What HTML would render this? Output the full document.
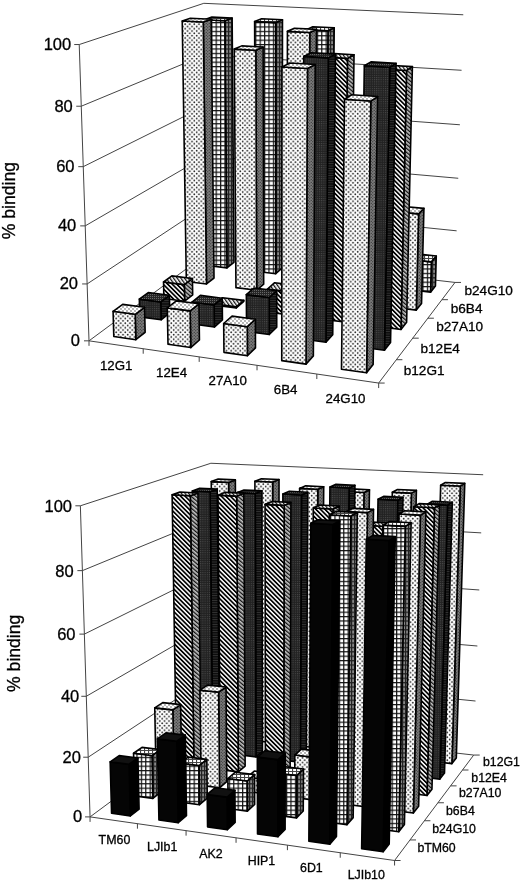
<!DOCTYPE html>
<html><head><meta charset="utf-8"><style>
html,body{margin:0;padding:0;background:#fff;}
svg{display:block;filter:blur(0.35px);}
</style></head><body>
<svg width="520" height="882" viewBox="0 0 520 882">

<defs>
 <pattern id="dotF" width="4.6" height="4.6" patternUnits="userSpaceOnUse">
  <rect width="4.6" height="4.6" fill="#fff"/>
  <circle cx="1.15" cy="1.15" r="0.9" fill="#222"/><circle cx="3.45" cy="3.45" r="0.9" fill="#222"/>
 </pattern>
 <pattern id="dotT" width="4" height="4" patternUnits="userSpaceOnUse">
  <rect width="4" height="4" fill="#fff"/>
  <circle cx="1" cy="1" r="0.65" fill="#333"/><circle cx="3" cy="3" r="0.65" fill="#333"/>
 </pattern>
 <pattern id="dotS" width="3" height="3" patternUnits="userSpaceOnUse">
  <rect width="3" height="3" fill="#7a7a7a"/>
  <circle cx="0.75" cy="0.75" r="0.6" fill="#222"/><circle cx="2.25" cy="2.25" r="0.6" fill="#222"/>
 </pattern>
 <pattern id="darkF" width="2.2" height="2.2" patternUnits="userSpaceOnUse">
  <rect width="2.2" height="2.2" fill="#222"/>
  <rect x="0" y="0" width="1.0" height="1.0" fill="#4c4c4c"/>
 </pattern>
 <pattern id="darkS" width="2" height="2.4" patternUnits="userSpaceOnUse">
  <rect width="2" height="2.4" fill="#0e0e0e"/>
  <rect x="0" y="0" width="2" height="0.7" fill="#3a3a3a"/>
 </pattern>
 <pattern id="darkT" width="2" height="2" patternUnits="userSpaceOnUse">
  <rect width="2" height="2" fill="#262626"/>
  <rect x="0" y="0" width="0.9" height="0.9" fill="#777"/>
 </pattern>
 <pattern id="hatF" width="3.2" height="3.2" patternUnits="userSpaceOnUse" patternTransform="rotate(-45)">
  <rect width="3.2" height="3.2" fill="#fff"/>
  <rect x="0" y="0" width="1.7" height="3.2" fill="#000"/>
 </pattern>
 <pattern id="hatS" width="3.0" height="3.0" patternUnits="userSpaceOnUse" patternTransform="rotate(-50)">
  <rect width="3.0" height="3.0" fill="#c4c4c4"/>
  <rect x="0" y="0" width="1.3" height="3.0" fill="#111"/>
 </pattern>
 <pattern id="hatT" width="3.0" height="3.0" patternUnits="userSpaceOnUse" patternTransform="rotate(-35)">
  <rect width="3.0" height="3.0" fill="#fff"/>
  <rect x="0" y="0" width="1.3" height="3.0" fill="#111"/>
 </pattern>
 <pattern id="gridF" width="4.4" height="4.4" patternUnits="userSpaceOnUse">
  <rect width="4.4" height="4.4" fill="#fff"/>
  <rect x="0" y="0" width="4.4" height="1.2" fill="#111"/><rect x="0" y="0" width="1.2" height="4.4" fill="#111"/>
 </pattern>
 <pattern id="gridS" width="3" height="4.4" patternUnits="userSpaceOnUse">
  <rect width="3" height="4.4" fill="#888"/>
  <rect x="0" y="0" width="3" height="1.3" fill="#222"/><rect x="0" y="0" width="1.2" height="4.4" fill="#222"/>
 </pattern>
 <pattern id="gridT" width="4" height="3" patternUnits="userSpaceOnUse">
  <rect width="4" height="3" fill="#fff"/>
  <rect x="0" y="0" width="4" height="1" fill="#444"/><rect x="0" y="0" width="1.1" height="3" fill="#444"/>
 </pattern>
</defs>

<rect width="520" height="882" fill="#fff"/>
<polyline points="89.00,340.83 206.87,253.68 455.03,282.43" fill="none" stroke="#444" stroke-width="1.0"/>
<line x1="84.00" y1="340.83" x2="89.00" y2="340.83" stroke="#444" stroke-width="1.0"/>
<polyline points="87.12,283.94 206.28,205.28 456.62,230.82" fill="none" stroke="#444" stroke-width="1.0"/>
<line x1="82.12" y1="283.94" x2="87.12" y2="283.94" stroke="#444" stroke-width="1.0"/>
<polyline points="85.21,225.89 205.68,156.07 458.24,178.27" fill="none" stroke="#444" stroke-width="1.0"/>
<line x1="80.21" y1="225.89" x2="85.21" y2="225.89" stroke="#444" stroke-width="1.0"/>
<polyline points="83.25,166.67 205.07,106.02 459.89,124.77" fill="none" stroke="#444" stroke-width="1.0"/>
<line x1="78.25" y1="166.67" x2="83.25" y2="166.67" stroke="#444" stroke-width="1.0"/>
<polyline points="81.26,106.23 204.45,55.11 461.57,70.28" fill="none" stroke="#444" stroke-width="1.0"/>
<line x1="76.26" y1="106.23" x2="81.26" y2="106.23" stroke="#444" stroke-width="1.0"/>
<polyline points="79.22,44.54 203.82,3.32 463.28,14.78" fill="none" stroke="#444" stroke-width="1.0"/>
<line x1="74.22" y1="44.54" x2="79.22" y2="44.54" stroke="#444" stroke-width="1.0"/>
<line x1="89.00" y1="340.83" x2="79.22" y2="44.54" stroke="#444" stroke-width="1.0"/>
<polyline points="89.00,340.83 378.67,383.05 455.03,282.43" fill="none" stroke="#444" stroke-width="1.0"/>
<line x1="89.00" y1="340.83" x2="89.00" y2="345.83" stroke="#444" stroke-width="1.0"/>
<line x1="143.21" y1="348.73" x2="143.21" y2="353.73" stroke="#444" stroke-width="1.0"/>
<line x1="199.19" y1="356.89" x2="199.19" y2="361.89" stroke="#444" stroke-width="1.0"/>
<line x1="257.03" y1="365.32" x2="257.03" y2="370.32" stroke="#444" stroke-width="1.0"/>
<line x1="316.82" y1="374.04" x2="316.82" y2="379.04" stroke="#444" stroke-width="1.0"/>
<line x1="378.67" y1="383.05" x2="378.67" y2="388.05" stroke="#444" stroke-width="1.0"/>
<line x1="378.67" y1="383.05" x2="384.67" y2="383.05" stroke="#444" stroke-width="1.0"/>
<line x1="396.38" y1="359.71" x2="402.38" y2="359.71" stroke="#444" stroke-width="1.0"/>
<line x1="412.73" y1="338.17" x2="418.73" y2="338.17" stroke="#444" stroke-width="1.0"/>
<line x1="427.88" y1="318.21" x2="433.88" y2="318.21" stroke="#444" stroke-width="1.0"/>
<line x1="441.94" y1="299.68" x2="447.94" y2="299.68" stroke="#444" stroke-width="1.0"/>
<line x1="455.03" y1="282.43" x2="461.03" y2="282.43" stroke="#444" stroke-width="1.0"/>
<polygon points="226.94,267.88 233.97,262.34 232.14,18.08 224.79,20.81" fill="url(#gridS)" stroke="#000" stroke-width="1.6" stroke-linejoin="round"/>
<polygon points="207.33,265.54 226.94,267.88 224.79,20.81 204.35,19.81" fill="url(#gridF)" stroke="#000" stroke-width="1.6" stroke-linejoin="round"/>
<polygon points="204.35,19.81 224.79,20.81 232.14,18.08 211.91,17.11" fill="url(#gridT)" stroke="#000" stroke-width="1.6" stroke-linejoin="round"/>
<polygon points="275.72,273.70 282.26,268.01 282.47,19.78 275.65,22.58" fill="url(#gridS)" stroke="#000" stroke-width="1.6" stroke-linejoin="round"/>
<polygon points="255.56,271.30 275.72,273.70 275.65,22.58 254.62,21.55" fill="url(#gridF)" stroke="#000" stroke-width="1.6" stroke-linejoin="round"/>
<polygon points="254.62,21.55 275.65,22.58 282.47,19.78 261.66,18.79" fill="url(#gridT)" stroke="#000" stroke-width="1.6" stroke-linejoin="round"/>
<polygon points="325.87,279.68 331.90,273.84 334.22,27.78 327.97,30.72" fill="url(#gridS)" stroke="#000" stroke-width="1.6" stroke-linejoin="round"/>
<polygon points="305.14,277.21 325.87,279.68 327.97,30.72 306.34,29.63" fill="url(#gridF)" stroke="#000" stroke-width="1.6" stroke-linejoin="round"/>
<polygon points="306.34,29.63 327.97,30.72 334.22,27.78 312.82,26.73" fill="url(#gridT)" stroke="#000" stroke-width="1.6" stroke-linejoin="round"/>
<polygon points="206.51,283.99 214.02,278.07 211.18,19.21 203.29,22.06" fill="url(#dotS)" stroke="#000" stroke-width="1.6" stroke-linejoin="round"/>
<polygon points="186.34,281.48 206.51,283.99 203.29,22.06 182.23,21.02" fill="url(#dotF)" stroke="#000" stroke-width="1.6" stroke-linejoin="round"/>
<polygon points="182.23,21.02 203.29,22.06 211.18,19.21 190.35,18.20" fill="url(#dotT)" stroke="#000" stroke-width="1.6" stroke-linejoin="round"/>
<polygon points="377.46,285.83 382.94,279.84 383.17,267.11 377.69,272.96" fill="url(#gridS)" stroke="#000" stroke-width="1.6" stroke-linejoin="round"/>
<polygon points="356.13,283.29 377.46,285.83 377.69,272.96 356.31,270.48" fill="url(#gridF)" stroke="#000" stroke-width="1.6" stroke-linejoin="round"/>
<polygon points="356.31,270.48 377.69,272.96 383.17,267.11 362.02,264.70" fill="url(#gridT)" stroke="#000" stroke-width="1.6" stroke-linejoin="round"/>
<polygon points="430.55,292.16 435.44,286.00 436.26,256.06 431.35,261.87" fill="url(#gridS)" stroke="#000" stroke-width="1.6" stroke-linejoin="round"/>
<polygon points="408.60,289.54 430.55,292.16 431.35,261.87 409.28,259.42" fill="url(#gridF)" stroke="#000" stroke-width="1.6" stroke-linejoin="round"/>
<polygon points="409.28,259.42 431.35,261.87 436.26,256.06 414.43,253.67" fill="url(#gridT)" stroke="#000" stroke-width="1.6" stroke-linejoin="round"/>
<polygon points="256.69,290.24 263.69,284.15 263.13,47.06 255.83,50.30" fill="url(#dotS)" stroke="#000" stroke-width="1.6" stroke-linejoin="round"/>
<polygon points="235.94,287.66 256.69,290.24 255.83,50.30 234.23,49.08" fill="url(#dotF)" stroke="#000" stroke-width="1.6" stroke-linejoin="round"/>
<polygon points="234.23,49.08 255.83,50.30 263.13,47.06 241.76,45.87" fill="url(#dotT)" stroke="#000" stroke-width="1.6" stroke-linejoin="round"/>
<polygon points="308.34,296.67 314.79,290.42 316.49,29.41 309.77,32.48" fill="url(#dotS)" stroke="#000" stroke-width="1.6" stroke-linejoin="round"/>
<polygon points="286.98,294.01 308.34,296.67 309.77,32.48 287.42,31.34" fill="url(#dotF)" stroke="#000" stroke-width="1.6" stroke-linejoin="round"/>
<polygon points="287.42,31.34 309.77,32.48 316.49,29.41 294.40,28.30" fill="url(#dotT)" stroke="#000" stroke-width="1.6" stroke-linejoin="round"/>
<polygon points="184.62,301.24 192.68,294.89 192.43,278.46 184.35,284.61" fill="url(#hatS)" stroke="#000" stroke-width="1.6" stroke-linejoin="round"/>
<polygon points="163.87,298.54 184.62,301.24 184.35,284.61 163.54,282.00" fill="url(#hatF)" stroke="#000" stroke-width="1.6" stroke-linejoin="round"/>
<polygon points="163.54,282.00 184.35,284.61 192.43,278.46 171.84,275.91" fill="url(#hatT)" stroke="#000" stroke-width="1.6" stroke-linejoin="round"/>
<polygon points="361.52,303.30 367.39,296.87 367.59,283.72 361.71,290.00" fill="url(#dotS)" stroke="#000" stroke-width="1.6" stroke-linejoin="round"/>
<polygon points="339.53,300.56 361.52,303.30 361.71,290.00 339.67,287.33" fill="url(#dotF)" stroke="#000" stroke-width="1.6" stroke-linejoin="round"/>
<polygon points="339.67,287.33 361.71,290.00 367.59,283.72 345.79,281.13" fill="url(#dotT)" stroke="#000" stroke-width="1.6" stroke-linejoin="round"/>
<polygon points="236.29,307.97 243.80,301.44 243.79,300.39 236.28,306.91" fill="url(#hatS)" stroke="#000" stroke-width="1.6" stroke-linejoin="round"/>
<polygon points="214.92,305.19 236.29,307.97 236.28,306.91 214.91,304.13" fill="url(#hatF)" stroke="#000" stroke-width="1.6" stroke-linejoin="round"/>
<polygon points="214.91,304.13 236.28,306.91 243.79,300.39 222.65,297.69" fill="url(#hatT)" stroke="#000" stroke-width="1.6" stroke-linejoin="round"/>
<polygon points="416.29,310.12 421.54,303.51 423.93,208.40 418.63,213.85" fill="url(#dotS)" stroke="#000" stroke-width="1.6" stroke-linejoin="round"/>
<polygon points="393.64,307.30 416.29,310.12 418.63,213.85 395.58,211.58" fill="url(#dotF)" stroke="#000" stroke-width="1.6" stroke-linejoin="round"/>
<polygon points="395.58,211.58 418.63,213.85 423.93,208.40 401.15,206.19" fill="url(#dotT)" stroke="#000" stroke-width="1.6" stroke-linejoin="round"/>
<polygon points="289.52,314.91 296.45,308.19 296.53,285.38 289.57,291.83" fill="url(#hatS)" stroke="#000" stroke-width="1.6" stroke-linejoin="round"/>
<polygon points="267.50,312.04 289.52,314.91 289.57,291.83 267.46,289.09" fill="url(#hatF)" stroke="#000" stroke-width="1.6" stroke-linejoin="round"/>
<polygon points="267.46,289.09 289.57,291.83 296.53,285.38 274.67,282.72" fill="url(#hatT)" stroke="#000" stroke-width="1.6" stroke-linejoin="round"/>
<polygon points="161.12,319.77 169.78,312.94 169.45,295.31 160.76,301.92" fill="url(#darkS)" stroke="#000" stroke-width="1.6" stroke-linejoin="round"/>
<polygon points="139.76,316.85 161.12,319.77 160.76,301.92 139.33,299.11" fill="url(#darkF)" stroke="#000" stroke-width="1.6" stroke-linejoin="round"/>
<polygon points="139.33,299.11 160.76,301.92 169.45,295.31 148.24,292.58" fill="url(#darkT)" stroke="#000" stroke-width="1.6" stroke-linejoin="round"/>
<polygon points="344.39,322.06 350.70,315.15 354.03,54.75 347.48,58.34" fill="url(#hatS)" stroke="#000" stroke-width="1.6" stroke-linejoin="round"/>
<polygon points="321.69,319.10 344.39,322.06 347.48,58.34 323.72,56.97" fill="url(#hatF)" stroke="#000" stroke-width="1.6" stroke-linejoin="round"/>
<polygon points="323.72,56.97 347.48,58.34 354.03,54.75 330.56,53.42" fill="url(#hatT)" stroke="#000" stroke-width="1.6" stroke-linejoin="round"/>
<polygon points="214.36,327.04 222.44,320.01 222.23,298.21 214.12,304.96" fill="url(#darkS)" stroke="#000" stroke-width="1.6" stroke-linejoin="round"/>
<polygon points="192.33,324.03 214.36,327.04 214.12,304.96 192.01,302.08" fill="url(#darkF)" stroke="#000" stroke-width="1.6" stroke-linejoin="round"/>
<polygon points="192.01,302.08 214.12,304.96 222.23,298.21 200.36,295.41" fill="url(#darkT)" stroke="#000" stroke-width="1.6" stroke-linejoin="round"/>
<polygon points="400.97,329.43 406.62,322.32 412.39,66.62 406.57,70.43" fill="url(#hatS)" stroke="#000" stroke-width="1.6" stroke-linejoin="round"/>
<polygon points="377.56,326.38 400.97,329.43 406.57,70.43 382.07,68.96" fill="url(#hatF)" stroke="#000" stroke-width="1.6" stroke-linejoin="round"/>
<polygon points="382.07,68.96 406.57,70.43 412.39,66.62 388.19,65.20" fill="url(#hatT)" stroke="#000" stroke-width="1.6" stroke-linejoin="round"/>
<polygon points="269.27,334.54 276.74,327.30 276.73,290.75 269.22,297.53" fill="url(#darkS)" stroke="#000" stroke-width="1.6" stroke-linejoin="round"/>
<polygon points="246.55,331.43 269.27,334.54 269.22,297.53 246.35,294.65" fill="url(#darkF)" stroke="#000" stroke-width="1.6" stroke-linejoin="round"/>
<polygon points="246.35,294.65 269.22,297.53 276.73,290.75 254.13,287.95" fill="url(#darkT)" stroke="#000" stroke-width="1.6" stroke-linejoin="round"/>
<polygon points="135.82,339.71 145.15,332.36 144.57,307.27 135.19,314.31" fill="url(#dotS)" stroke="#000" stroke-width="1.6" stroke-linejoin="round"/>
<polygon points="113.81,336.55 135.82,339.71 135.19,314.31 113.08,311.30" fill="url(#dotF)" stroke="#000" stroke-width="1.6" stroke-linejoin="round"/>
<polygon points="113.08,311.30 135.19,314.31 144.57,307.27 122.70,304.35" fill="url(#dotT)" stroke="#000" stroke-width="1.6" stroke-linejoin="round"/>
<polygon points="325.93,342.28 332.74,334.82 335.46,54.11 328.36,57.84" fill="url(#darkS)" stroke="#000" stroke-width="1.6" stroke-linejoin="round"/>
<polygon points="302.48,339.07 325.93,342.28 328.36,57.84 303.73,56.41" fill="url(#darkF)" stroke="#000" stroke-width="1.6" stroke-linejoin="round"/>
<polygon points="303.73,56.41 328.36,57.84 335.46,54.11 311.14,52.73" fill="url(#darkT)" stroke="#000" stroke-width="1.6" stroke-linejoin="round"/>
<polygon points="190.72,347.58 199.44,340.00 198.95,303.79 190.16,310.90" fill="url(#dotS)" stroke="#000" stroke-width="1.6" stroke-linejoin="round"/>
<polygon points="168.00,344.32 190.72,347.58 190.16,310.90 167.30,307.87" fill="url(#dotF)" stroke="#000" stroke-width="1.6" stroke-linejoin="round"/>
<polygon points="167.30,307.87 190.16,310.90 198.95,303.79 176.34,300.84" fill="url(#dotT)" stroke="#000" stroke-width="1.6" stroke-linejoin="round"/>
<polygon points="384.43,350.27 390.53,342.58 396.07,63.33 389.75,67.25" fill="url(#darkS)" stroke="#000" stroke-width="1.6" stroke-linejoin="round"/>
<polygon points="360.22,346.96 384.43,350.27 389.75,67.25 364.31,65.74" fill="url(#darkF)" stroke="#000" stroke-width="1.6" stroke-linejoin="round"/>
<polygon points="364.31,65.74 389.75,67.25 396.07,63.33 370.96,61.87" fill="url(#darkT)" stroke="#000" stroke-width="1.6" stroke-linejoin="round"/>
<polygon points="247.42,355.71 255.48,347.90 255.37,319.25 247.27,326.69" fill="url(#dotS)" stroke="#000" stroke-width="1.6" stroke-linejoin="round"/>
<polygon points="223.95,352.35 247.42,355.71 247.27,326.69 223.68,323.50" fill="url(#dotF)" stroke="#000" stroke-width="1.6" stroke-linejoin="round"/>
<polygon points="223.68,323.50 247.27,326.69 255.37,319.25 232.06,316.15" fill="url(#dotT)" stroke="#000" stroke-width="1.6" stroke-linejoin="round"/>
<polygon points="306.00,364.12 313.36,356.05 315.20,64.52 307.49,68.56" fill="url(#dotS)" stroke="#000" stroke-width="1.6" stroke-linejoin="round"/>
<polygon points="281.75,360.64 306.00,364.12 307.49,68.56 281.97,67.00" fill="url(#dotF)" stroke="#000" stroke-width="1.6" stroke-linejoin="round"/>
<polygon points="281.97,67.00 307.49,68.56 315.20,64.52 290.01,63.01" fill="url(#dotT)" stroke="#000" stroke-width="1.6" stroke-linejoin="round"/>
<polygon points="366.55,372.80 373.15,364.48 377.67,96.47 370.82,101.06" fill="url(#dotS)" stroke="#000" stroke-width="1.6" stroke-linejoin="round"/>
<polygon points="341.48,369.20 366.55,372.80 370.82,101.06 344.53,99.25" fill="url(#dotF)" stroke="#000" stroke-width="1.6" stroke-linejoin="round"/>
<polygon points="344.53,99.25 370.82,101.06 377.67,96.47 351.73,94.72" fill="url(#dotT)" stroke="#000" stroke-width="1.6" stroke-linejoin="round"/>
<polyline points="90.06,816.90 213.51,725.52 473.71,755.06" fill="none" stroke="#444" stroke-width="1.0"/>
<line x1="85.06" y1="816.90" x2="90.06" y2="816.90" stroke="#444" stroke-width="1.0"/>
<polyline points="88.20,757.21 213.01,674.84 475.53,701.03" fill="none" stroke="#444" stroke-width="1.0"/>
<line x1="83.20" y1="757.21" x2="88.20" y2="757.21" stroke="#444" stroke-width="1.0"/>
<polyline points="86.31,696.29 212.49,623.30 477.38,646.01" fill="none" stroke="#444" stroke-width="1.0"/>
<line x1="81.31" y1="696.29" x2="86.31" y2="696.29" stroke="#444" stroke-width="1.0"/>
<polyline points="84.37,634.11 211.97,570.88 479.27,589.98" fill="none" stroke="#444" stroke-width="1.0"/>
<line x1="79.37" y1="634.11" x2="84.37" y2="634.11" stroke="#444" stroke-width="1.0"/>
<polyline points="82.39,570.63 211.43,517.53 481.20,532.89" fill="none" stroke="#444" stroke-width="1.0"/>
<line x1="77.39" y1="570.63" x2="82.39" y2="570.63" stroke="#444" stroke-width="1.0"/>
<polyline points="80.37,505.81 210.89,463.26 483.16,474.74" fill="none" stroke="#444" stroke-width="1.0"/>
<line x1="75.37" y1="505.81" x2="80.37" y2="505.81" stroke="#444" stroke-width="1.0"/>
<line x1="90.06" y1="816.90" x2="80.37" y2="505.81" stroke="#444" stroke-width="1.0"/>
<polyline points="90.06,816.90 394.57,860.51 473.71,755.06" fill="none" stroke="#444" stroke-width="1.0"/>
<line x1="90.06" y1="816.90" x2="90.06" y2="821.90" stroke="#444" stroke-width="1.0"/>
<line x1="137.43" y1="823.68" x2="137.43" y2="828.68" stroke="#444" stroke-width="1.0"/>
<line x1="186.07" y1="830.65" x2="186.07" y2="835.65" stroke="#444" stroke-width="1.0"/>
<line x1="236.05" y1="837.81" x2="236.05" y2="842.81" stroke="#444" stroke-width="1.0"/>
<line x1="287.42" y1="845.16" x2="287.42" y2="850.16" stroke="#444" stroke-width="1.0"/>
<line x1="340.24" y1="852.73" x2="340.24" y2="857.73" stroke="#444" stroke-width="1.0"/>
<line x1="394.57" y1="860.51" x2="394.57" y2="865.51" stroke="#444" stroke-width="1.0"/>
<line x1="394.57" y1="860.51" x2="400.57" y2="860.51" stroke="#444" stroke-width="1.0"/>
<line x1="410.00" y1="839.95" x2="416.00" y2="839.95" stroke="#444" stroke-width="1.0"/>
<line x1="424.42" y1="820.74" x2="430.42" y2="820.74" stroke="#444" stroke-width="1.0"/>
<line x1="437.91" y1="802.75" x2="443.91" y2="802.75" stroke="#444" stroke-width="1.0"/>
<line x1="450.58" y1="785.87" x2="456.58" y2="785.87" stroke="#444" stroke-width="1.0"/>
<line x1="462.49" y1="770.00" x2="468.49" y2="770.00" stroke="#444" stroke-width="1.0"/>
<line x1="473.71" y1="755.06" x2="479.71" y2="755.06" stroke="#444" stroke-width="1.0"/>
<polygon points="230.42,737.86 236.90,732.80 235.36,479.91 228.59,482.39" fill="url(#dotS)" stroke="#000" stroke-width="1.6" stroke-linejoin="round"/>
<polygon points="213.78,735.92 230.42,737.86 228.59,482.39 211.24,481.58" fill="url(#dotF)" stroke="#000" stroke-width="1.6" stroke-linejoin="round"/>
<polygon points="211.24,481.58 228.59,482.39 235.36,479.91 218.17,479.12" fill="url(#dotT)" stroke="#000" stroke-width="1.6" stroke-linejoin="round"/>
<polygon points="272.69,742.78 278.79,737.61 279.03,479.51 272.66,482.01" fill="url(#dotS)" stroke="#000" stroke-width="1.6" stroke-linejoin="round"/>
<polygon points="255.66,740.80 272.69,742.78 272.66,482.01 254.90,481.18" fill="url(#dotF)" stroke="#000" stroke-width="1.6" stroke-linejoin="round"/>
<polygon points="254.90,481.18 272.66,482.01 279.03,479.51 261.43,478.70" fill="url(#dotT)" stroke="#000" stroke-width="1.6" stroke-linejoin="round"/>
<polygon points="315.93,747.81 321.64,742.53 323.72,486.68 317.79,489.29" fill="url(#dotS)" stroke="#000" stroke-width="1.6" stroke-linejoin="round"/>
<polygon points="298.52,745.78 315.93,747.81 317.79,489.29 299.61,488.42" fill="url(#dotF)" stroke="#000" stroke-width="1.6" stroke-linejoin="round"/>
<polygon points="299.61,488.42 317.79,489.29 323.72,486.68 305.71,485.83" fill="url(#dotT)" stroke="#000" stroke-width="1.6" stroke-linejoin="round"/>
<polygon points="212.70,751.69 219.55,746.34 217.23,489.16 210.06,491.82" fill="url(#darkS)" stroke="#000" stroke-width="1.6" stroke-linejoin="round"/>
<polygon points="195.67,749.63 212.70,751.69 210.06,491.82 192.30,490.93" fill="url(#darkF)" stroke="#000" stroke-width="1.6" stroke-linejoin="round"/>
<polygon points="192.30,490.93 210.06,491.82 217.23,489.16 199.64,488.30" fill="url(#darkT)" stroke="#000" stroke-width="1.6" stroke-linejoin="round"/>
<polygon points="360.19,752.96 365.49,747.56 369.48,489.78 364.00,492.46" fill="url(#dotS)" stroke="#000" stroke-width="1.6" stroke-linejoin="round"/>
<polygon points="342.37,750.88 360.19,752.96 364.00,492.46 345.38,491.57" fill="url(#dotF)" stroke="#000" stroke-width="1.6" stroke-linejoin="round"/>
<polygon points="345.38,491.57 364.00,492.46 369.48,489.78 351.04,488.91" fill="url(#dotT)" stroke="#000" stroke-width="1.6" stroke-linejoin="round"/>
<polygon points="255.99,756.91 262.45,751.44 261.97,490.85 255.22,493.56" fill="url(#darkS)" stroke="#000" stroke-width="1.6" stroke-linejoin="round"/>
<polygon points="238.55,754.81 255.99,756.91 255.22,493.56 237.02,492.65" fill="url(#darkF)" stroke="#000" stroke-width="1.6" stroke-linejoin="round"/>
<polygon points="237.02,492.65 255.22,493.56 261.97,490.85 243.95,489.96" fill="url(#darkT)" stroke="#000" stroke-width="1.6" stroke-linejoin="round"/>
<polygon points="405.50,758.23 410.36,752.72 416.41,490.42 411.40,493.15" fill="url(#dotS)" stroke="#000" stroke-width="1.6" stroke-linejoin="round"/>
<polygon points="387.25,756.11 405.50,758.23 411.40,493.15 392.31,492.24" fill="url(#dotF)" stroke="#000" stroke-width="1.6" stroke-linejoin="round"/>
<polygon points="392.31,492.24 411.40,493.15 416.41,490.42 397.51,489.54" fill="url(#dotT)" stroke="#000" stroke-width="1.6" stroke-linejoin="round"/>
<polygon points="451.90,763.63 456.30,757.99 464.76,483.40 460.25,486.07" fill="url(#dotS)" stroke="#000" stroke-width="1.6" stroke-linejoin="round"/>
<polygon points="433.21,761.45 451.90,763.63 460.25,486.07 440.65,485.19" fill="url(#dotF)" stroke="#000" stroke-width="1.6" stroke-linejoin="round"/>
<polygon points="440.65,485.19 460.25,486.07 464.76,483.40 445.36,482.53" fill="url(#dotT)" stroke="#000" stroke-width="1.6" stroke-linejoin="round"/>
<polygon points="300.30,762.26 306.35,756.67 307.82,492.19 301.52,494.95" fill="url(#darkS)" stroke="#000" stroke-width="1.6" stroke-linejoin="round"/>
<polygon points="282.45,760.10 300.30,762.26 301.52,494.95 282.86,494.03" fill="url(#darkF)" stroke="#000" stroke-width="1.6" stroke-linejoin="round"/>
<polygon points="282.86,494.03 301.52,494.95 307.82,492.19 289.35,491.29" fill="url(#darkT)" stroke="#000" stroke-width="1.6" stroke-linejoin="round"/>
<polygon points="193.94,766.33 201.20,760.66 197.95,492.96 190.32,495.74" fill="url(#hatS)" stroke="#000" stroke-width="1.6" stroke-linejoin="round"/>
<polygon points="176.50,764.14 193.94,766.33 190.32,495.74 172.11,494.81" fill="url(#hatF)" stroke="#000" stroke-width="1.6" stroke-linejoin="round"/>
<polygon points="172.11,494.81 190.32,495.74 197.95,492.96 179.91,492.05" fill="url(#hatT)" stroke="#000" stroke-width="1.6" stroke-linejoin="round"/>
<polygon points="345.69,767.74 351.30,762.02 354.94,485.23 349.10,487.95" fill="url(#darkS)" stroke="#000" stroke-width="1.6" stroke-linejoin="round"/>
<polygon points="327.40,765.53 345.69,767.74 349.10,487.95 329.94,487.04" fill="url(#darkF)" stroke="#000" stroke-width="1.6" stroke-linejoin="round"/>
<polygon points="329.94,487.04 349.10,487.95 354.94,485.23 335.97,484.35" fill="url(#darkT)" stroke="#000" stroke-width="1.6" stroke-linejoin="round"/>
<polygon points="238.29,771.89 245.14,766.09 243.84,493.30 236.66,496.12" fill="url(#hatS)" stroke="#000" stroke-width="1.6" stroke-linejoin="round"/>
<polygon points="220.42,769.65 238.29,771.89 236.66,496.12 217.98,495.18" fill="url(#hatF)" stroke="#000" stroke-width="1.6" stroke-linejoin="round"/>
<polygon points="217.98,495.18 236.66,496.12 243.84,493.30 225.34,492.37" fill="url(#hatT)" stroke="#000" stroke-width="1.6" stroke-linejoin="round"/>
<polygon points="392.18,773.35 397.34,767.50 402.99,497.29 397.66,500.18" fill="url(#darkS)" stroke="#000" stroke-width="1.6" stroke-linejoin="round"/>
<polygon points="373.45,771.09 392.18,773.35 397.66,500.18 378.04,499.21" fill="url(#darkF)" stroke="#000" stroke-width="1.6" stroke-linejoin="round"/>
<polygon points="378.04,499.21 397.66,500.18 402.99,497.29 383.57,496.34" fill="url(#darkT)" stroke="#000" stroke-width="1.6" stroke-linejoin="round"/>
<polygon points="439.83,779.10 444.50,773.11 452.33,502.19 447.53,505.17" fill="url(#darkS)" stroke="#000" stroke-width="1.6" stroke-linejoin="round"/>
<polygon points="420.63,776.78 439.83,779.10 447.53,505.17 427.41,504.16" fill="url(#darkF)" stroke="#000" stroke-width="1.6" stroke-linejoin="round"/>
<polygon points="427.41,504.16 447.53,505.17 452.33,502.19 432.42,501.20" fill="url(#darkT)" stroke="#000" stroke-width="1.6" stroke-linejoin="round"/>
<polygon points="283.73,777.58 290.14,771.65 290.91,502.41 284.21,505.38" fill="url(#hatS)" stroke="#000" stroke-width="1.6" stroke-linejoin="round"/>
<polygon points="265.42,775.29 283.73,777.58 284.21,505.38 265.06,504.37" fill="url(#hatF)" stroke="#000" stroke-width="1.6" stroke-linejoin="round"/>
<polygon points="265.06,504.37 284.21,505.38 290.91,502.41 271.95,501.43" fill="url(#hatT)" stroke="#000" stroke-width="1.6" stroke-linejoin="round"/>
<polygon points="174.04,781.86 181.74,775.85 180.64,704.59 172.83,709.84" fill="url(#dotS)" stroke="#000" stroke-width="1.6" stroke-linejoin="round"/>
<polygon points="156.16,779.54 174.04,781.86 172.83,709.84 154.75,707.84" fill="url(#dotF)" stroke="#000" stroke-width="1.6" stroke-linejoin="round"/>
<polygon points="154.75,707.84 172.83,709.84 180.64,704.59 162.73,702.64" fill="url(#dotT)" stroke="#000" stroke-width="1.6" stroke-linejoin="round"/>
<polygon points="330.29,783.42 336.25,777.35 339.14,506.01 332.94,509.06" fill="url(#hatS)" stroke="#000" stroke-width="1.6" stroke-linejoin="round"/>
<polygon points="311.53,781.06 330.29,783.42 332.94,509.06 313.29,508.03" fill="url(#hatF)" stroke="#000" stroke-width="1.6" stroke-linejoin="round"/>
<polygon points="313.29,508.03 332.94,509.06 339.14,506.01 319.70,505.00" fill="url(#hatT)" stroke="#000" stroke-width="1.6" stroke-linejoin="round"/>
<polygon points="219.50,787.79 226.77,781.63 226.03,686.99 218.63,692.13" fill="url(#dotS)" stroke="#000" stroke-width="1.6" stroke-linejoin="round"/>
<polygon points="201.18,785.40 219.50,787.79 218.63,692.13 200.02,690.18" fill="url(#dotF)" stroke="#000" stroke-width="1.6" stroke-linejoin="round"/>
<polygon points="200.02,690.18 218.63,692.13 226.03,686.99 207.60,685.10" fill="url(#dotT)" stroke="#000" stroke-width="1.6" stroke-linejoin="round"/>
<polygon points="378.04,789.40 383.51,783.18 388.36,523.01 382.70,526.30" fill="url(#hatS)" stroke="#000" stroke-width="1.6" stroke-linejoin="round"/>
<polygon points="358.79,786.99 378.04,789.40 382.70,526.30 362.58,525.16" fill="url(#hatF)" stroke="#000" stroke-width="1.6" stroke-linejoin="round"/>
<polygon points="362.58,525.16 382.70,526.30 388.36,523.01 368.46,521.90" fill="url(#hatT)" stroke="#000" stroke-width="1.6" stroke-linejoin="round"/>
<polygon points="426.99,795.53 431.96,789.17 439.60,504.67 434.49,507.78" fill="url(#hatS)" stroke="#000" stroke-width="1.6" stroke-linejoin="round"/>
<polygon points="407.26,793.06 426.99,795.53 434.49,507.78 413.76,506.72" fill="url(#hatF)" stroke="#000" stroke-width="1.6" stroke-linejoin="round"/>
<polygon points="413.76,506.72 434.49,507.78 439.60,504.67 419.10,503.63" fill="url(#hatT)" stroke="#000" stroke-width="1.6" stroke-linejoin="round"/>
<polygon points="266.12,793.86 272.94,787.55 272.93,773.40 266.10,779.55" fill="url(#dotS)" stroke="#000" stroke-width="1.6" stroke-linejoin="round"/>
<polygon points="247.33,791.41 266.12,793.86 266.10,779.55 247.27,777.17" fill="url(#dotF)" stroke="#000" stroke-width="1.6" stroke-linejoin="round"/>
<polygon points="247.27,777.17 266.10,779.55 272.93,773.40 254.29,771.08" fill="url(#dotT)" stroke="#000" stroke-width="1.6" stroke-linejoin="round"/>
<polygon points="152.89,798.37 161.08,791.98 160.27,749.62 152.01,755.55" fill="url(#gridS)" stroke="#000" stroke-width="1.6" stroke-linejoin="round"/>
<polygon points="134.56,795.89 152.89,798.37 152.01,755.55 133.56,753.26" fill="url(#gridF)" stroke="#000" stroke-width="1.6" stroke-linejoin="round"/>
<polygon points="133.56,753.26 152.01,755.55 160.27,749.62 142.00,747.39" fill="url(#gridT)" stroke="#000" stroke-width="1.6" stroke-linejoin="round"/>
<polygon points="313.93,800.09 320.27,793.63 320.60,751.38 314.22,757.38" fill="url(#dotS)" stroke="#000" stroke-width="1.6" stroke-linejoin="round"/>
<polygon points="294.66,797.58 313.93,800.09 314.22,757.38 294.81,755.07" fill="url(#dotF)" stroke="#000" stroke-width="1.6" stroke-linejoin="round"/>
<polygon points="294.81,755.07 314.22,757.38 320.60,751.38 301.39,749.13" fill="url(#dotT)" stroke="#000" stroke-width="1.6" stroke-linejoin="round"/>
<polygon points="199.52,804.69 207.26,798.14 206.83,759.40 199.03,765.52" fill="url(#gridS)" stroke="#000" stroke-width="1.6" stroke-linejoin="round"/>
<polygon points="180.72,802.15 199.52,804.69 199.03,765.52 180.11,763.16" fill="url(#gridF)" stroke="#000" stroke-width="1.6" stroke-linejoin="round"/>
<polygon points="180.11,763.16 199.03,765.52 206.83,759.40 188.09,757.09" fill="url(#gridT)" stroke="#000" stroke-width="1.6" stroke-linejoin="round"/>
<polygon points="362.98,806.48 368.82,799.86 373.52,509.41 367.46,512.65" fill="url(#dotS)" stroke="#000" stroke-width="1.6" stroke-linejoin="round"/>
<polygon points="343.21,803.90 362.98,806.48 367.46,512.65 346.68,511.54" fill="url(#dotF)" stroke="#000" stroke-width="1.6" stroke-linejoin="round"/>
<polygon points="346.68,511.54 367.46,512.65 373.52,509.41 352.97,508.33" fill="url(#dotT)" stroke="#000" stroke-width="1.6" stroke-linejoin="round"/>
<polygon points="247.37,811.18 254.64,804.47 254.54,774.62 247.24,781.00" fill="url(#gridS)" stroke="#000" stroke-width="1.6" stroke-linejoin="round"/>
<polygon points="228.08,808.57 247.37,811.18 247.24,781.00 227.85,778.53" fill="url(#gridF)" stroke="#000" stroke-width="1.6" stroke-linejoin="round"/>
<polygon points="227.85,778.53 247.24,781.00 254.54,774.62 235.35,772.21" fill="url(#gridT)" stroke="#000" stroke-width="1.6" stroke-linejoin="round"/>
<polygon points="413.33,813.04 418.63,806.25 425.89,511.84 420.42,515.16" fill="url(#dotS)" stroke="#000" stroke-width="1.6" stroke-linejoin="round"/>
<polygon points="393.03,810.39 413.33,813.04 420.42,515.16 399.06,514.02" fill="url(#dotF)" stroke="#000" stroke-width="1.6" stroke-linejoin="round"/>
<polygon points="399.06,514.02 420.42,515.16 425.89,511.84 404.77,510.73" fill="url(#dotT)" stroke="#000" stroke-width="1.6" stroke-linejoin="round"/>
<polygon points="130.37,815.95 139.09,809.14 137.93,758.01 129.11,764.24" fill="#000" stroke="#000" stroke-width="1.6" stroke-linejoin="round"/>
<polygon points="111.57,813.29 130.37,815.95 129.11,764.24 110.16,761.84" fill="#050505" stroke="#000" stroke-width="1.6" stroke-linejoin="round"/>
<polygon points="110.16,761.84 129.11,764.24 137.93,758.01 119.16,755.66" fill="#111" stroke="#000" stroke-width="1.6" stroke-linejoin="round"/>
<polygon points="296.50,817.84 303.25,810.96 303.47,769.08 296.66,775.49" fill="url(#gridS)" stroke="#000" stroke-width="1.6" stroke-linejoin="round"/>
<polygon points="276.69,815.16 296.50,817.84 296.66,775.49 276.72,773.01" fill="url(#gridF)" stroke="#000" stroke-width="1.6" stroke-linejoin="round"/>
<polygon points="276.72,773.01 296.66,775.49 303.47,769.08 283.73,766.66" fill="url(#gridT)" stroke="#000" stroke-width="1.6" stroke-linejoin="round"/>
<polygon points="178.23,822.71 186.48,815.73 185.29,735.15 176.91,741.21" fill="#000" stroke="#000" stroke-width="1.6" stroke-linejoin="round"/>
<polygon points="158.93,819.98 178.23,822.71 176.91,741.21 157.35,738.88" fill="#050505" stroke="#000" stroke-width="1.6" stroke-linejoin="round"/>
<polygon points="157.35,738.88 176.91,741.21 185.29,735.15 165.93,732.88" fill="#111" stroke="#000" stroke-width="1.6" stroke-linejoin="round"/>
<polygon points="346.94,824.68 353.16,817.63 357.30,512.55 350.81,515.95" fill="url(#gridS)" stroke="#000" stroke-width="1.6" stroke-linejoin="round"/>
<polygon points="326.60,821.93 346.94,824.68 350.81,515.95 329.39,514.79" fill="url(#gridF)" stroke="#000" stroke-width="1.6" stroke-linejoin="round"/>
<polygon points="329.39,514.79 350.81,515.95 357.30,512.55 336.12,511.42" fill="url(#gridT)" stroke="#000" stroke-width="1.6" stroke-linejoin="round"/>
<polygon points="227.39,829.66 235.14,822.50 234.93,790.30 227.13,797.09" fill="#000" stroke="#000" stroke-width="1.6" stroke-linejoin="round"/>
<polygon points="207.56,826.86 227.39,829.66 227.13,797.09 207.20,794.45" fill="#050505" stroke="#000" stroke-width="1.6" stroke-linejoin="round"/>
<polygon points="207.20,794.45 227.13,797.09 234.93,790.30 215.20,787.72" fill="#111" stroke="#000" stroke-width="1.6" stroke-linejoin="round"/>
<polygon points="398.75,831.71 404.41,824.47 411.14,522.75 405.28,526.33" fill="url(#gridS)" stroke="#000" stroke-width="1.6" stroke-linejoin="round"/>
<polygon points="377.86,828.88 398.75,831.71 405.28,526.33 383.27,525.09" fill="url(#gridF)" stroke="#000" stroke-width="1.6" stroke-linejoin="round"/>
<polygon points="383.27,525.09 405.28,526.33 411.14,522.75 389.38,521.54" fill="url(#gridT)" stroke="#000" stroke-width="1.6" stroke-linejoin="round"/>
<polygon points="277.89,836.80 285.11,829.45 285.26,753.16 277.95,759.62" fill="#000" stroke="#000" stroke-width="1.6" stroke-linejoin="round"/>
<polygon points="257.52,833.92 277.89,836.80 277.95,759.62 257.32,757.13" fill="#050505" stroke="#000" stroke-width="1.6" stroke-linejoin="round"/>
<polygon points="257.32,757.13 277.95,759.62 285.26,753.16 264.85,750.74" fill="#111" stroke="#000" stroke-width="1.6" stroke-linejoin="round"/>
<polygon points="329.80,844.14 336.45,836.59 339.85,520.92 332.88,524.55" fill="#000" stroke="#000" stroke-width="1.6" stroke-linejoin="round"/>
<polygon points="308.86,841.18 329.80,844.14 332.88,524.55 310.79,523.30" fill="#050505" stroke="#000" stroke-width="1.6" stroke-linejoin="round"/>
<polygon points="310.79,523.30 332.88,524.55 339.85,520.92 318.02,519.70" fill="#111" stroke="#000" stroke-width="1.6" stroke-linejoin="round"/>
<polygon points="383.16,851.68 389.21,843.93 395.30,536.66 389.01,540.56" fill="#000" stroke="#000" stroke-width="1.6" stroke-linejoin="round"/>
<polygon points="361.64,848.64 383.16,851.68 389.01,540.56 366.31,539.19" fill="#050505" stroke="#000" stroke-width="1.6" stroke-linejoin="round"/>
<polygon points="366.31,539.19 389.01,540.56 395.30,536.66 372.87,535.33" fill="#111" stroke="#000" stroke-width="1.6" stroke-linejoin="round"/>
<text x="71.2" y="49.6" font-size="16.5" text-anchor="end" font-family="Liberation Sans, sans-serif" fill="#000" stroke="#000" stroke-width="0.3" >100</text>
<text x="72.8" y="111.7" font-size="16.5" text-anchor="end" font-family="Liberation Sans, sans-serif" fill="#000" stroke="#000" stroke-width="0.3" >80</text>
<text x="74.5" y="171.7" font-size="16.5" text-anchor="end" font-family="Liberation Sans, sans-serif" fill="#000" stroke="#000" stroke-width="0.3" >60</text>
<text x="76.3" y="231.2" font-size="16.5" text-anchor="end" font-family="Liberation Sans, sans-serif" fill="#000" stroke="#000" stroke-width="0.3" >40</text>
<text x="78" y="289.2" font-size="16.5" text-anchor="end" font-family="Liberation Sans, sans-serif" fill="#000" stroke="#000" stroke-width="0.3" >20</text>
<text x="80" y="346.2" font-size="16.5" text-anchor="end" font-family="Liberation Sans, sans-serif" fill="#000" stroke="#000" stroke-width="0.3" >0</text>
<text x="72" y="511.6" font-size="16.5" text-anchor="end" font-family="Liberation Sans, sans-serif" fill="#000" stroke="#000" stroke-width="0.3" >100</text>
<text x="73.6" y="576.6" font-size="16.5" text-anchor="end" font-family="Liberation Sans, sans-serif" fill="#000" stroke="#000" stroke-width="0.3" >80</text>
<text x="75.5" y="640.4" font-size="16.5" text-anchor="end" font-family="Liberation Sans, sans-serif" fill="#000" stroke="#000" stroke-width="0.3" >60</text>
<text x="79.3" y="702.2" font-size="16.5" text-anchor="end" font-family="Liberation Sans, sans-serif" fill="#000" stroke="#000" stroke-width="0.3" >40</text>
<text x="80.9" y="763.2" font-size="16.5" text-anchor="end" font-family="Liberation Sans, sans-serif" fill="#000" stroke="#000" stroke-width="0.3" >20</text>
<text x="82.3" y="821.6" font-size="16.5" text-anchor="end" font-family="Liberation Sans, sans-serif" fill="#000" stroke="#000" stroke-width="0.3" >0</text>
<text x="0" y="0" font-size="17.6" text-anchor="middle" font-family="Liberation Sans, sans-serif" fill="#000" stroke="#000" stroke-width="0.3" transform="translate(14.8,200.6) rotate(-90)">% binding</text>
<text x="0" y="0" font-size="17.6" text-anchor="middle" font-family="Liberation Sans, sans-serif" fill="#000" stroke="#000" stroke-width="0.3" transform="translate(20.4,653.3) rotate(-90)">% binding</text>
<text x="99.9" y="370" font-size="13.3" text-anchor="start" font-family="Liberation Sans, sans-serif" fill="#000" stroke="#000" stroke-width="0.3" >12G1</text>
<text x="156" y="377" font-size="13.3" text-anchor="start" font-family="Liberation Sans, sans-serif" fill="#000" stroke="#000" stroke-width="0.3" >12E4</text>
<text x="208.5" y="385.4" font-size="13.3" text-anchor="start" font-family="Liberation Sans, sans-serif" fill="#000" stroke="#000" stroke-width="0.3" >27A10</text>
<text x="273.8" y="393.8" font-size="13.3" text-anchor="start" font-family="Liberation Sans, sans-serif" fill="#000" stroke="#000" stroke-width="0.3" >6B4</text>
<text x="325.5" y="403" font-size="13.3" text-anchor="start" font-family="Liberation Sans, sans-serif" fill="#000" stroke="#000" stroke-width="0.3" >24G10</text>
<text x="464.5" y="294.5" font-size="13.6" text-anchor="start" font-family="Liberation Sans, sans-serif" fill="#000" stroke="#000" stroke-width="0.3" >b24G10</text>
<text x="450.75" y="312.5" font-size="13.6" text-anchor="start" font-family="Liberation Sans, sans-serif" fill="#000" stroke="#000" stroke-width="0.3" >b6B4</text>
<text x="436.25" y="331.25" font-size="13.6" text-anchor="start" font-family="Liberation Sans, sans-serif" fill="#000" stroke="#000" stroke-width="0.3" >b27A10</text>
<text x="420.5" y="352.5" font-size="13.6" text-anchor="start" font-family="Liberation Sans, sans-serif" fill="#000" stroke="#000" stroke-width="0.3" >b12E4</text>
<text x="403.75" y="374.5" font-size="13.6" text-anchor="start" font-family="Liberation Sans, sans-serif" fill="#000" stroke="#000" stroke-width="0.3" >b12G1</text>
<text x="98.6" y="844.1" font-size="12.4" text-anchor="start" font-family="Liberation Sans, sans-serif" fill="#000" stroke="#000" stroke-width="0.3" >TM60</text>
<text x="147" y="851.2" font-size="12.4" text-anchor="start" font-family="Liberation Sans, sans-serif" fill="#000" stroke="#000" stroke-width="0.3" >LJIb1</text>
<text x="199.2" y="858.2" font-size="12.4" text-anchor="start" font-family="Liberation Sans, sans-serif" fill="#000" stroke="#000" stroke-width="0.3" >AK2</text>
<text x="247.7" y="864.6" font-size="12.4" text-anchor="start" font-family="Liberation Sans, sans-serif" fill="#000" stroke="#000" stroke-width="0.3" >HIP1</text>
<text x="300" y="872.3" font-size="12.4" text-anchor="start" font-family="Liberation Sans, sans-serif" fill="#000" stroke="#000" stroke-width="0.3" >6D1</text>
<text x="347.7" y="879.4" font-size="12.4" text-anchor="start" font-family="Liberation Sans, sans-serif" fill="#000" stroke="#000" stroke-width="0.3" >LJIb10</text>
<text x="483" y="766.1" font-size="12.3" text-anchor="start" font-family="Liberation Sans, sans-serif" fill="#000" stroke="#000" stroke-width="0.3" >b12G1</text>
<text x="471.3" y="781.8" font-size="12.3" text-anchor="start" font-family="Liberation Sans, sans-serif" fill="#000" stroke="#000" stroke-width="0.3" >b12E4</text>
<text x="459" y="797.2" font-size="12.3" text-anchor="start" font-family="Liberation Sans, sans-serif" fill="#000" stroke="#000" stroke-width="0.3" >b27A10</text>
<text x="446" y="814.8" font-size="12.3" text-anchor="start" font-family="Liberation Sans, sans-serif" fill="#000" stroke="#000" stroke-width="0.3" >b6B4</text>
<text x="432.2" y="833.2" font-size="12.3" text-anchor="start" font-family="Liberation Sans, sans-serif" fill="#000" stroke="#000" stroke-width="0.3" >b24G10</text>
<text x="417.4" y="852.2" font-size="12.3" text-anchor="start" font-family="Liberation Sans, sans-serif" fill="#000" stroke="#000" stroke-width="0.3" >bTM60</text>
</svg>
</body></html>
